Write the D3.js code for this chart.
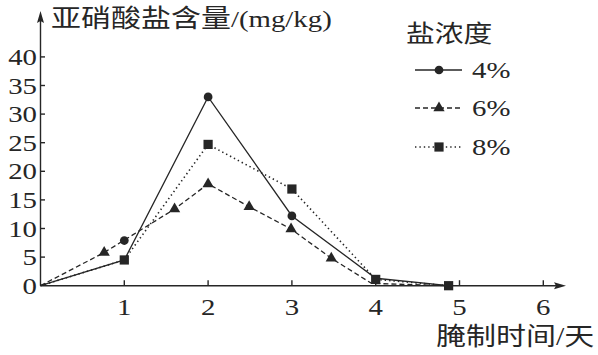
<!DOCTYPE html>
<html>
<head>
<meta charset="utf-8">
<script src="https://cdn.jsdelivr.net/npm/d3@7"></script>
<style>
  body { margin: 0; background: #fff; }
  svg { display: block; }
</style>
</head>
<body>
<div id="chart"></div>
<script>
// axis ticks
const xTicks = [1, 2, 3, 4, 5, 6];
const yTicks = [0, 5, 10, 15, 20, 25, 30, 35, 40];

// legend
const seriesNames = ["4%", "6%", "8%"];

// 4% (solid, circles)
const line4X = [0, 1, 2, 3, 4, 4.87];
const line4Y = [0, 4.5, 33, 12.2, 1.3, 0];
const mark4X = [1, 2, 3];
const mark4Y = [7.9, 33, 12.2];

// 6% (dashed, triangles)
const line6X = [0, 0.76, 1.6, 2, 2.49, 2.99, 3.47, 3.95, 4.87];
const line6Y = [0, 5.8, 13.4, 17.8, 13.8, 9.9, 4.8, 0.4, 0];
const mark6X = [0.76, 1.6, 2, 2.49, 2.99, 3.47];
const mark6Y = [5.8, 13.4, 17.8, 13.8, 9.9, 4.8];

// 8% (dotted, squares)
const line8X = [0, 1, 2, 3, 4, 4.87];
const line8Y = [0, 4.5, 24.7, 16.9, 1.1, 0];
const mark8X = [1, 2, 3, 4, 4.87];
const mark8Y = [4.5, 24.7, 16.9, 1.1, 0];

const W = 598, H = 355;
const ink = "#262626";
const serif = "'Liberation Serif', 'DejaVu Serif', serif";
const cjk = "'Noto Sans CJK SC', sans-serif";

const svg = d3.select("#chart").append("svg")
    .attr("width", W)
    .attr("height", H);

let x = d3.scaleLinear().domain([0, 6]).range([40.5, 543.3]);
let y = d3.scaleLinear().domain([0, 40]).range([285.7, 56.9]);

// text is a bit wider than tall in the picture
function addText(px, py, str, font, size, anchor) {
    return svg.append("text")
        .attr("transform", "translate(" + px + "," + py + ") scale(1.2,1)")
        .attr("text-anchor", anchor || "start")
        .style("font-family", font)
        .style("font-size", size + "px")
        .attr("fill", ink)
        .text(str);
}

// axes
let axes = svg.append("g").attr("stroke", ink).attr("stroke-width", 1.4);
axes.append("line")
    .attr("x1", x(0)).attr("y1", y(0))
    .attr("x2", 560).attr("y2", y(0));
axes.append("line")
    .attr("x1", x(0)).attr("y1", y(0))
    .attr("x2", x(0)).attr("y2", 18);
svg.append("path")
    .attr("d", "M566," + y(0) + " L554," + (y(0) - 3.5) + " L556," + y(0) + " L554," + (y(0) + 3.5) + "Z")
    .attr("fill", ink);
svg.append("path")
    .attr("d", "M" + x(0) + ",11 L" + (x(0) - 3.5) + ",23 L" + x(0) + ",21 L" + (x(0) + 3.5) + ",23Z")
    .attr("fill", ink);

// y ticks pointing right
axes.selectAll(".yt").data(yTicks.filter(d => d > 0)).enter().append("line")
    .attr("x1", x(0)).attr("x2", x(0) + 4.5)
    .attr("y1", d => y(d)).attr("y2", d => y(d));
yTicks.forEach(d => addText(37, y(d) + 8, d, serif, 24, "end"));

// x ticks pointing up
axes.selectAll(".xt").data(xTicks).enter().append("line")
    .attr("x1", d => x(d)).attr("x2", d => x(d))
    .attr("y1", y(0)).attr("y2", y(0) - 5.5);
xTicks.forEach(d => addText(x(d), 315, d, serif, 24, "middle"));

// axis titles
let yTitle = svg.append("text")
    .attr("transform", "translate(51,27) scale(1.2,1)")
    .style("font-size", "25px")
    .attr("fill", ink);
yTitle.append("tspan").style("font-family", cjk).text("亚硝酸盐含量");
yTitle.append("tspan").style("font-family", serif).style("font-size", "24px").text("/(mg/kg)");

let xTitle = svg.append("text")
    .attr("transform", "translate(436,345) scale(1.2,1)")
    .style("font-size", "25px")
    .attr("fill", ink);
xTitle.append("tspan").style("font-family", cjk).text("腌制时间");
xTitle.append("tspan").style("font-family", serif).text("/");
xTitle.append("tspan").style("font-family", cjk).text("天");

// series
const series = [
    {lx: line4X, ly: line4Y, mx: mark4X, my: mark4Y, dash: null, sym: d3.symbolCircle, size: 60},
    {lx: line6X, ly: line6Y, mx: mark6X, my: mark6Y, dash: "5,3", sym: d3.symbolTriangle, size: 55},
    {lx: line8X, ly: line8Y, mx: mark8X, my: mark8Y, dash: "1.4,3", sym: d3.symbolSquare, size: 85}
];

let line = d3.line().x(d => x(d[0])).y(d => y(d[1]));

series.forEach(s => {
    let pts = s.lx.map((v, i) => [v, s.ly[i]]);
    svg.append("path")
        .attr("d", line(pts))
        .attr("fill", "none")
        .attr("stroke", ink)
        .attr("stroke-width", s.dash === "1.4,3" ? 1.6 : 1.3)
        .attr("stroke-dasharray", s.dash);
});

series.forEach(s => {
    let sym = d3.symbol().type(s.sym).size(s.size);
    svg.selectAll(null).data(s.mx.map((v, i) => [v, s.my[i]])).enter().append("path")
        .attr("d", sym)
        .attr("transform", d => "translate(" + x(d[0]) + "," + y(d[1]) + ")")
        .attr("fill", ink);
});

// legend
addText(406, 42, "盐浓度", cjk, 24, "start");
let legY = [70, 108, 147];
series.forEach((s, i) => {
    svg.append("line")
        .attr("x1", 415).attr("x2", 462)
        .attr("y1", legY[i]).attr("y2", legY[i])
        .attr("stroke", ink)
        .attr("stroke-width", s.dash === "1.4,3" ? 1.6 : 1.3)
        .attr("stroke-dasharray", s.dash);
    svg.append("path")
        .attr("d", d3.symbol().type(s.sym).size(s.size))
        .attr("transform", "translate(439," + legY[i] + ")")
        .attr("fill", ink);
    addText(472, legY[i] + 8, seriesNames[i], serif, 24, "start");
});
</script>
</body>
</html>
